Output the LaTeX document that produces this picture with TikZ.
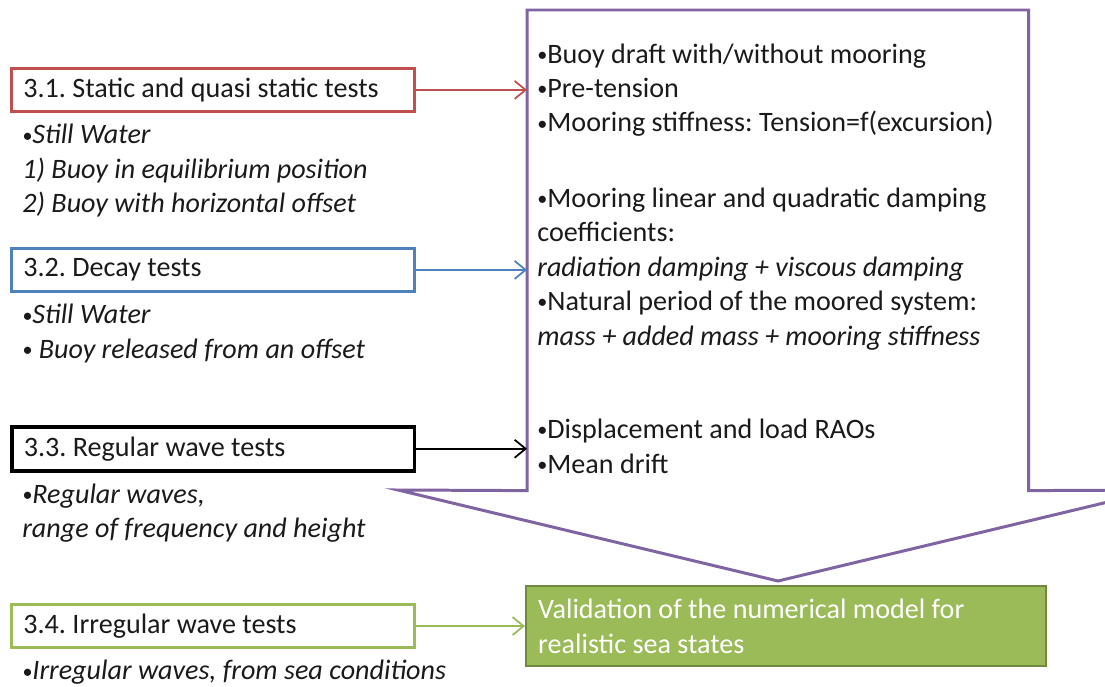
\documentclass[tikz,border=0pt]{standalone}
\usepackage{fontspec}
\setmainfont{Carlito}
\usetikzlibrary{arrows.meta, positioning}
\definecolor{static}{HTML}{C0504D}
\definecolor{decay}{HTML}{4F81BD}
\definecolor{regular}{HTML}{000000}
\definecolor{irreg}{HTML}{9BBB59}
\definecolor{irregbd}{HTML}{71893F}
\definecolor{outcome}{HTML}{8064A2}
\definecolor{ink}{HTML}{1A1A1A}
\newcommand{\txt}{\fontsize{16}{19.6}\selectfont\frenchspacing}
\newcommand{\bul}{\raisebox{0.12ex}{\scalebox{0.72}{\textbullet}}}
\tikzset{
  test/.style={rectangle, draw, line width=1.6pt, fill=white, align=flush left,
               text width=7.58cm, inner xsep=0.24cm, inner ysep=0pt,
               minimum height=0.86cm, text=ink, font=\txt, anchor=north west},
  desc/.style={align=left, inner sep=0pt, text=ink, font=\txt\itshape},
  items/.style={align=left, inner sep=0pt, text=ink, font=\txt, anchor=base west},
  valid/.style={rectangle, draw=irregbd, line width=1.4pt, fill=irreg,
                text=white, align=flush left, text width=9.92cm, inner xsep=0.24cm,
                inner ysep=0pt, minimum height=1.6cm, font=\txt, anchor=north west},
  callout/.style={draw=outcome, line width=1.7pt, line join=miter},
  arrow/.style={-{Straight Barb[length=2.2mm, width=3.6mm]}, line width=1pt},
}

\begin{document}
\begin{tikzpicture}[x=0.02cm, y=-0.02cm]
  \useasboundingbox (0,0) rectangle (1105,686);
  \clip (0,0) rectangle (1105,686);

  % ---- the four test campaigns ----
  \node[test, draw=static] (t1) at (10,67) {3.1. Static and quasi static tests};
  \node[desc, below right=0.22cm and 0.24cm of t1.south west, anchor=north west] (d1)
    {\bul Still Water\\
     1) Buoy in equilibrium position\\
     2) Buoy with horizontal offset};

  \node[test, draw=decay] (t2) at (10,247) {3.2. Decay tests};
  \node[desc, below right=0.22cm and 0.24cm of t2.south west, anchor=north west] (d2)
    {\bul Still Water\\
     \bul{} Buoy released from an offset};

  \node[test, draw=regular, line width=2pt, minimum height=0.88cm] (t3) at (10,425)
    {3.3. Regular wave tests};
  \node[desc, below right=0.22cm and 0.24cm of t3.south west, anchor=north west] (d3)
    {\bul Regular waves,\\
     range of frequency and height};

  \node[test, draw=irreg] (t4) at (10,603) {3.4. Irregular wave tests};
  \node[desc, below right=0.22cm and 0.24cm of t4.south west, anchor=north west] (d4)
    {\bul Irregular waves, from sea conditions};

  % ---- what is measured ----
  \node[minimum width=10.02cm, minimum height=9.6cm, inner sep=0pt,
        anchor=north west] (res) at (527,10) {};
  \coordinate (tip) at (778,581);
  \coordinate (shL) at (398,490);
  \coordinate (shR) at (1158,490);
  \draw[callout] (res.south west) -- (res.north west) -- (res.north east)
    -- (res.south east) -- (shR) -- (tip) -- (shL) -- cycle;

  % base is the last line of each group
  \node[items] (g1) at (537,132)
    {\bul Buoy draft with/without mooring\\
     \bul Pre-tension\\
     \bul Mooring stiffness: Tension=f(excursion)};
  \node[items] (g2) at (537,345)
    {\bul Mooring linear and quadratic damping\\
     coefficients:\\
     \textit{radiation damping + viscous damping}\\
     \bul Natural period of the moored system:\\
     \textit{mass + added mass + mooring stiffness}};
  \node[items] (g3) at (537,473)
    {\bul Displacement and load RAOs\\
     \bul Mean drift};

  \node[valid] (val) at (525,585)
    {Validation of the numerical model for\\ realistic sea states};

  \draw[arrow, draw=static] (t1) -- (t1 -| res.west);
  \draw[arrow, draw=decay] (t2) -- (t2 -| res.west);
  \draw[arrow, draw=regular] (t3) -- (t3 -| res.west);
  \draw[arrow, draw=irreg] (t4) -- (val);
\end{tikzpicture}
\end{document}
